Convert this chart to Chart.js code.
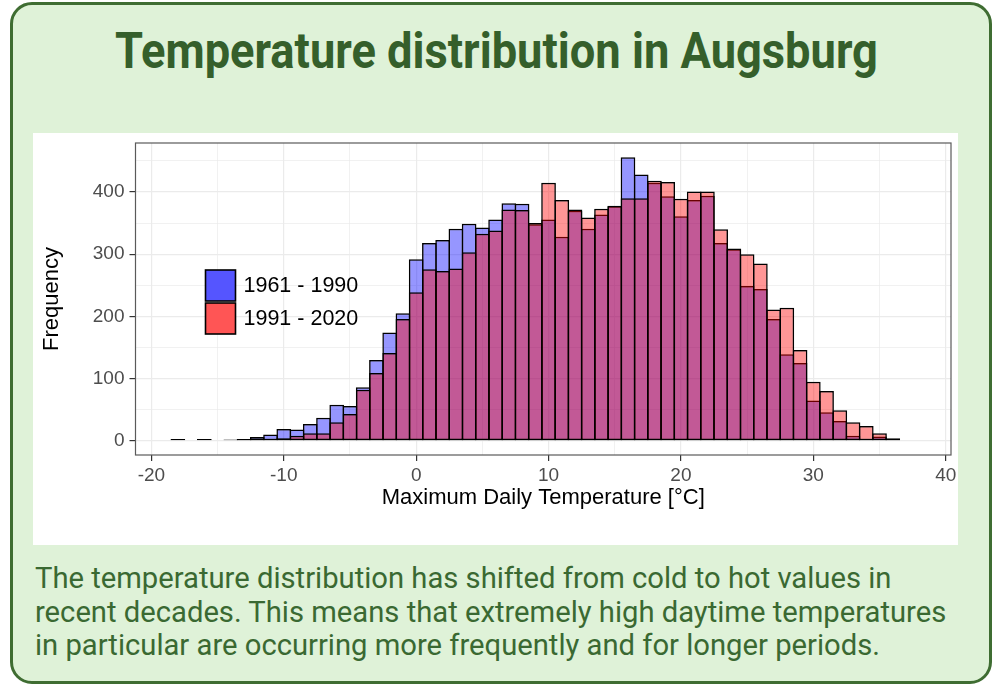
<!DOCTYPE html>
<html>
<head>
<meta charset="utf-8">
<script src="https://cdn.jsdelivr.net/npm/chart.js@4.4.1/dist/chart.umd.min.js"></script>
<style>
  html, body { margin: 0; padding: 0; background: #ffffff; }
  body { width: 992px; height: 684px; position: relative; overflow: hidden; font-family: Roboto, "Noto Sans", sans-serif; }
  #card { position: absolute; left: 10px; top: 2px; width: 976px; height: 676px; background: #dff2d8; border: 3px solid #3f6d32; border-radius: 22px; }
  #title { position: absolute; left: 0; top: 26px; width: 992px; text-align: center; white-space: nowrap; }
  #title span { display: inline-block; font-weight: 700; font-size: 50px; line-height: 50px; color: #355f2b; transform-origin: center center; }
  #panel { position: absolute; left: 33px; top: 133px; width: 925px; height: 412px; background: #ffffff; }
  #panel canvas { position: absolute; left: 0; top: 0; }
  .line { position: absolute; left: 35px; white-space: nowrap; height: 33.5px; }
  .line span { display: inline-block; font-size: 30px; line-height: 33.5px; color: #3a6932; transform-origin: left center; }
</style>
</head>
<body>
<div id="card"></div>
<div id="title"><span id="titleText">Temperature distribution in Augsburg</span></div>
<div id="panel"><canvas id="chart" width="925" height="412"></canvas></div>
<div class="line" style="top:561px"><span>The temperature distribution has shifted from cold to hot values in</span></div>
<div class="line" style="top:594.5px"><span id="longLine">recent decades. This means that extremely high daytime temperatures</span></div>
<div class="line" style="top:628px"><span>in particular are occurring more frequently and for longer periods.</span></div>
<script>
// ---- data (bin centres in °C, counts per bin) ----
const temperatures = [-18,-17,-16,-15,-14,-13,-12,-11,-10,-9,-8,-7,-6,-5,-4,-3,-2,-1,0,1,2,3,4,5,6,7,8,9,10,11,12,13,14,15,16,17,18,19,20,21,22,23,24,25,26,27,28,29,30,31,32,33,34,35,36,37];
const period1961 = [3,1,3,1,2,3,6,10,19,18,27,37,58,56,86,130,174,205,292,318,323,341,349,343,356,382,381,348,356,328,370,341,364,377,456,428,415,393,361,387,394,318,308,249,244,196,139,125,65,46,32,8,3,7,2,1];
const period1991 = [1,0,1,1,1,2,3,3,4,8,12,12,30,43,82,109,141,196,239,276,273,277,303,333,338,372,371,350,415,387,372,359,373,378,390,390,418,416,389,401,401,340,309,300,285,211,214,146,95,80,49,30,24,12,4,1];
const seriesLabels = ["1961 - 1990", "1991 - 2020"];
const xTickValues = [-20,-15,-10,-5,0,5,10,15,20,25,30,35,40];
const yTickValues = [0,50,100,150,200,250,300,350,400,450];
const xMajor = [-20,-10,0,10,20,30,40];
const yMajor = [0,100,200,300,400];

// ---- fit condensed text ----
(function fitText(){
  const t = document.getElementById('titleText');
  t.style.transform = 'scaleX(' + (763 / t.offsetWidth) + ')';
  const ll = document.getElementById('longLine');
  const s = 911 / ll.offsetWidth;
  document.querySelectorAll('.line span').forEach(el => el.style.transform = 'scaleX(' + s + ')');
})();

Chart.defaults.font.family = '"Liberation Sans", Arial, sans-serif';

const legendColors = ['#5555ff', '#ff5555'];

const insideLegend = {
  id: 'insideLegend',
  afterDraw(chart) {
    const ctx = chart.ctx, a = chart.chartArea;
    const x0 = a.left + 70, y0 = a.top + 127;
    ctx.save();
    ctx.font = '21.5px "Liberation Sans", Arial, sans-serif';
    ctx.textBaseline = 'middle';
    ctx.textAlign = 'left';
    seriesLabels.forEach((lab, i) => {
      const y = y0 + i * 33;
      ctx.fillStyle = legendColors[i];
      ctx.fillRect(x0, y, 30, 31);
      ctx.strokeStyle = '#000';
      ctx.lineWidth = 1.6;
      ctx.strokeRect(x0, y, 30, 31);
      ctx.fillStyle = '#000';
      ctx.fillText(lab, x0 + 38, y + 16);
    });
    ctx.restore();
  }
};

const panelBorder = {
  id: 'panelBorder',
  afterDraw(chart) {
    const ctx = chart.ctx, a = chart.chartArea;
    ctx.save();
    ctx.strokeStyle = '#5a5a5a';
    ctx.lineWidth = 1.2;
    ctx.strokeRect(a.left, a.top, a.right - a.left, a.bottom - a.top);
    ctx.restore();
  }
};

const toPoints = arr => arr.map((v, i) => ({ x: temperatures[i], y: v }));
const barStyle = { borderColor: '#000000', borderWidth: 1.5, borderSkipped: false, barPercentage: 1.11, categoryPercentage: 1, grouped: false };

new Chart(document.getElementById('chart'), {
  type: 'bar',
  data: {
    datasets: [
      Object.assign({ label: seriesLabels[0], data: toPoints(period1961), backgroundColor: 'rgba(0,0,255,0.41)', order: 1 }, barStyle),
      Object.assign({ label: seriesLabels[1], data: toPoints(period1991), backgroundColor: 'rgba(255,0,0,0.41)', order: 0 }, barStyle)
    ]
  },
  options: {
    responsive: false,
    animation: false,
    events: [],
    layout: { padding: { top: 10, right: 7, left: 0, bottom: 0 } },
    plugins: { legend: { display: false }, tooltip: { enabled: false } },
    scales: {
      x: {
        type: 'linear', min: -21.2, max: 40.4, offset: false,
        afterFit(s) { s.height = 90; s.paddingLeft = 0; s.paddingRight = 0; },
        afterBuildTicks(s) { s.ticks = xTickValues.map(v => ({ value: v })); },
        ticks: { color: '#4d4d4d', font: { size: 19 }, padding: 3, maxRotation: 0, autoSkip: false,
                 callback: v => xMajor.includes(v) ? String(v) : '' },
        grid: { offset: false, color: '#ebebeb', lineWidth: c => xMajor.includes(c.tick && c.tick.value) ? 1.2 : 0.7,
                tickLength: 6, tickColor: c => xMajor.includes(c.tick && c.tick.value) ? '#333333' : 'rgba(0,0,0,0)' },
        border: { display: false },
        title: { display: true, text: 'Maximum Daily Temperature [°C]', color: '#000', font: { size: 22 }, padding: { top: 0, bottom: 34 } }
      },
      y: {
        type: 'linear', min: -22.8, max: 478.8,
        afterFit(s) { s.width = 102.5; s.paddingTop = 0; s.paddingBottom = 0; },
        afterBuildTicks(s) { s.ticks = yTickValues.map(v => ({ value: v })); },
        ticks: { color: '#4d4d4d', font: { size: 19 }, padding: 5, autoSkip: false,
                 callback: v => yMajor.includes(v) ? String(v) : '' },
        grid: { color: '#ebebeb', lineWidth: c => yMajor.includes(c.tick && c.tick.value) ? 1.2 : 0.7,
                tickLength: 6, tickColor: c => yMajor.includes(c.tick && c.tick.value) ? '#333333' : 'rgba(0,0,0,0)' },
        border: { display: false },
        title: { display: true, text: 'Frequency', color: '#000', font: { size: 22 }, padding: { top: 6, bottom: 0 } }
      }
    }
  },
  plugins: [insideLegend, panelBorder]
});
</script>
</body>
</html>
